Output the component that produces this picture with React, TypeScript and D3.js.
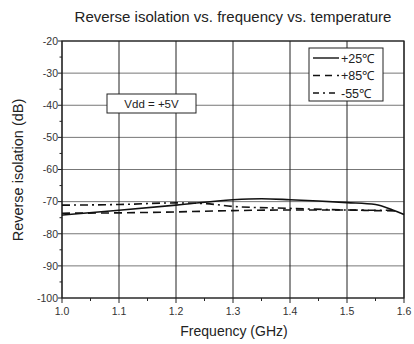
import React from "react";
import * as d3 from "d3";

const freq25 = [1.0, 1.1, 1.2, 1.3, 1.35, 1.4, 1.5, 1.55, 1.58, 1.6];
const iso25 = [-74.2, -72.7, -71.1, -69.4, -69.1, -69.4, -70.3, -70.9, -72.6, -74.0];
const freq85 = [1.0, 1.1, 1.2, 1.3, 1.4, 1.5, 1.55, 1.59];
const iso85 = [-73.6, -73.5, -73.2, -72.8, -72.6, -72.6, -72.8, -72.9];
const freqM55 = [1.0, 1.1, 1.2, 1.25, 1.3, 1.4, 1.5, 1.58];
const isoM55 = [-71.1, -70.9, -70.4, -70.6, -71.5, -72.1, -72.6, -72.7];
const xTicks = [1.0, 1.1, 1.2, 1.3, 1.4, 1.5, 1.6];
const yTicks = [-20, -30, -40, -50, -60, -70, -80, -90, -100];
const legendLabels = ["+25℃", "+85℃", "-55℃"];

const W = 414, H = 344;
const L = 62, R = 404, T = 41, B = 298;
const font = "Liberation Sans, Arial, sans-serif";

export default function App() {
  const x = d3.scaleLinear().domain([1.0, 1.6]).range([L, R]);
  const y = d3.scaleLinear().domain([-100, -20]).range([B, T]);
  const line = d3.line<[number, number]>().x(d => x(d[0])).y(d => y(d[1])).curve(d3.curveMonotoneX);
  const series = [
    { f: freq25, v: iso25, dash: "none" },
    { f: freq85, v: iso85, dash: "8,5" },
    { f: freqM55, v: isoM55, dash: "8,4,2,4" },
  ];
  const xMinor = d3.range(1.05, 1.6, 0.1);
  const yMinor = d3.range(-95, -20, 10);
  return (
    <svg width={W} height={H} style={{ position: "absolute", left: 0, top: 0 }}>
      <rect width={W} height={H} fill="#fff" />
      <text x={233} y={22} textAnchor="middle" fontFamily={font} fontSize={15} fill="#222">
        Reverse isolation vs. frequency vs. temperature
      </text>
      {yTicks.map(t => (
        <line key={"h" + t} x1={L} x2={R} y1={y(t)} y2={y(t)} stroke="#777" strokeWidth={1} />
      ))}
      {xTicks.map(t => (
        <line key={"v" + t} x1={x(t)} x2={x(t)} y1={T} y2={B} stroke="#222" strokeWidth={1} />
      ))}
      <rect x={L} y={T} width={R - L} height={B - T} fill="none" stroke="#222" strokeWidth={1.2} />
      {yTicks.map(t => (
        <g key={"yt" + t}>
          <line x1={L - 4} x2={L} y1={y(t)} y2={y(t)} stroke="#222" />
          <text x={L - 4} y={y(t) + 3.8} textAnchor="end" fontFamily={font} fontSize={10.5} fill="#333">{t}</text>
        </g>
      ))}
      {yMinor.map(t => (
        <line key={"ym" + t} x1={L - 2.5} x2={L} y1={y(t)} y2={y(t)} stroke="#222" />
      ))}
      {xTicks.map(t => (
        <g key={"xt" + t}>
          <line x1={x(t)} x2={x(t)} y1={B} y2={B + 5} stroke="#222" />
          <text x={x(t)} y={B + 17} textAnchor="middle" fontFamily={font} fontSize={10.5} fill="#333">{t.toFixed(1)}</text>
        </g>
      ))}
      {xMinor.map(t => (
        <line key={"xm" + t} x1={x(t)} x2={x(t)} y1={B} y2={B + 3} stroke="#222" />
      ))}
      {series.map((s, i) => (
        <path key={i} d={line(s.f.map((f, j) => [f, s.v[j]] as [number, number])) || ""}
          fill="none" stroke="#111" strokeWidth={1.6} strokeDasharray={s.dash} />
      ))}
      <rect x={309} y={48} width={74} height={53} fill="#fff" stroke="#222" strokeWidth={1} />
      {legendLabels.map((lab, i) => (
        <g key={lab}>
          <line x1={313} x2={339} y1={58 + i * 17.5} y2={58 + i * 17.5} stroke="#111" strokeWidth={1.4}
            strokeDasharray={series[i].dash === "none" ? "none" : i === 1 ? "7,5" : "6,4,2,4"} />
          <text x={341} y={62.5 + i * 17.5} fontFamily={font} fontSize={12.5} fill="#222">{lab}</text>
        </g>
      ))}
      <rect x={107} y={94} width={89} height={19} fill="#fff" stroke="#222" strokeWidth={1} />
      <text x={151.5} y={108} textAnchor="middle" fontFamily={font} fontSize={11.5} fill="#222">Vdd = +5V</text>
      <text transform={`translate(23,170) rotate(-90)`} textAnchor="middle" fontFamily={font} fontSize={14.5} fill="#222">
        Reverse isolation (dB)
      </text>
      <text x={234} y={336} textAnchor="middle" fontFamily={font} fontSize={14} fill="#222">Frequency (GHz)</text>
    </svg>
  );
}
